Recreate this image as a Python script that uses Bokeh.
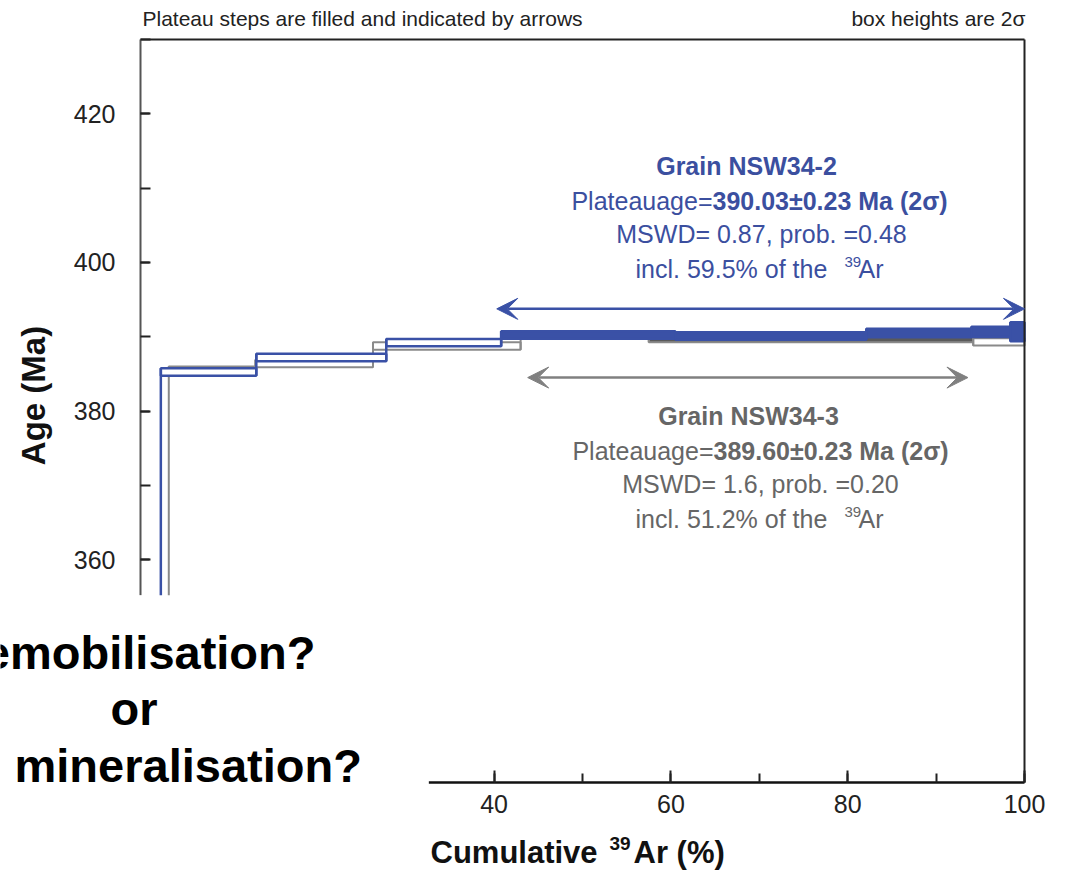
from bokeh.plotting import figure
from bokeh.models import (Range1d, LinearAxis, SingleIntervalTicker, FixedTicker,
                          BoxAnnotation, Label, Arrow, VeeHead, ColumnDataSource)
from bokeh.embed import file_html
from bokeh.resources import INLINE

# ---------------- data ----------------
# Grain NSW34-2 (blue): step boundaries in cumulative 39Ar %, ages (Ma), half box heights
blue_x0 = [0.0, 2.3, 13.1, 27.8, 40.8, 60.5, 82.1, 94.0, 98.4]
blue_x1 = [2.3, 13.1, 27.8, 40.8, 60.5, 82.1, 94.0, 98.4, 100.0]
blue_age = [345.0, 385.25, 387.2, 389.2, 390.23, 390.1, 390.5, 390.65, 390.67]
blue_err = [1.0, 0.5, 0.5, 0.5, 0.5, 0.5, 0.56, 0.7, 1.28]
blue_plateau = [False, False, False, False, True, True, True, True, True]
blue_plateau_range = [40.3, 100.0]

# Grain NSW34-3 (grey)
gray_x0 = [0.0, 3.2, 13.0, 26.3, 43.0, 57.5, 94.2]
gray_x1 = [3.2, 13.0, 26.3, 43.0, 57.5, 94.2, 100.0]
gray_age = [348.0, 385.5, 386.4, 388.75, 390.2, 389.8, 389.3]
gray_err = [1.0, 0.5, 0.5, 0.5, 0.45, 0.55, 0.5]
gray_plateau = [False, False, False, False, True, True, False]
gray_plateau_range = [43.8, 93.6]

x_axis_span = [0.0, 100.0]
y_axis_span = [330.0, 430.0]
x_ticks_major = 20
y_ticks_major = 20

# ---------------- layout / styling ----------------
W, H = 1068, 871
FL, FR, FT, FB = 140, 1024, 39, 782     # plotting box edges (page pixels)
KX = (FR - FL) / (x_axis_span[1] - x_axis_span[0])
KY = (FB - FT) / (y_axis_span[1] - y_axis_span[0])

BLUE = "#3a51a6"
BLUE_TXT = "#3b4f9f"
GRAY_LINE = "#8a8a8a"
GRAY_FILL = "#5a5a5a"
GRAY_TXT = "#666666"
FONT = "Liberation Sans"

# the frame covers the whole canvas so that no text is clipped; the axes are pinned
xr = Range1d(x_axis_span[0] - FL / KX, x_axis_span[1] + (W - FR) / KX)
yr = Range1d(y_axis_span[0] - (H - FB) / KY, y_axis_span[1] + FT / KY)

p = figure(width=W, height=H, x_range=xr, y_range=yr,
           output_backend="svg", toolbar_location=None,
           x_axis_location=None, y_axis_location=None, min_border=0)
p.xgrid.grid_line_color = None
p.ygrid.grid_line_color = None
p.outline_line_color = None
p.background_fill_color = "white"
p.border_fill_color = "white"


def axis_style(ax, line_color, line_width):
    ax.axis_line_color = line_color
    ax.axis_line_width = line_width
    ax.major_tick_out = 0
    ax.minor_tick_out = 0
    ax.major_tick_line_color = "#222222"
    ax.minor_tick_line_color = "#222222"
    ax.major_tick_line_width = 2
    ax.minor_tick_line_width = 2
    ax.major_label_text_font = FONT
    ax.major_label_text_font_size = "25px"
    ax.major_label_text_color = "#222222"


yax = LinearAxis(ticker=SingleIntervalTicker(interval=y_ticks_major, num_minor_ticks=2),
                 bounds=(355.2, y_axis_span[1]), fixed_location=x_axis_span[0])
axis_style(yax, "#555555", 2)
yax.major_tick_in = 9
yax.minor_tick_in = 10
yax.major_label_standoff = 25
p.add_layout(yax, "left")

xax = LinearAxis(ticker=SingleIntervalTicker(interval=x_ticks_major, num_minor_ticks=2),
                 bounds=(32.6, x_axis_span[1]), fixed_location=y_axis_span[0])
axis_style(xax, "#111111", 2.5)
xax.major_tick_in = 12
xax.minor_tick_in = 9
xax.major_label_standoff = 12
p.add_layout(xax, "below")

top_ax = LinearAxis(ticker=FixedTicker(ticks=[]), bounds=tuple(x_axis_span),
                    fixed_location=y_axis_span[1])
right_ax = LinearAxis(ticker=FixedTicker(ticks=[]), bounds=tuple(y_axis_span),
                      fixed_location=x_axis_span[1])
for ax, loc in ((top_ax, "above"), (right_ax, "right")):
    ax.axis_line_color = "#222222"
    ax.axis_line_width = 2
    ax.major_tick_out = 0
    ax.minor_tick_out = 0
    ax.major_label_text_font_size = "0px"
    p.add_layout(ax, loc)


def draw_spectrum(x0, x1, age, err, plateau, line_color, fill_plateau, lw):
    bottom = [a - e for a, e in zip(age, err)]
    top = [a + e for a, e in zip(age, err)]
    fills = [fill_plateau if pl else "white" for pl in plateau]
    src = ColumnDataSource(dict(left=x0, right=x1, bottom=bottom, top=top, fill=fills))
    p.quad(left="left", right="right", bottom="bottom", top="top", source=src,
           fill_color="fill", line_color=line_color, line_width=lw)
    sx = x1[:-1]
    sy0 = [min(bottom[i], bottom[i + 1]) for i in range(len(x0) - 1)]
    sy1 = [max(top[i], top[i + 1]) for i in range(len(x0) - 1)]
    p.segment(x0=sx, x1=sx, y0=sy0, y1=sy1, line_color=line_color, line_width=lw)


draw_spectrum(gray_x0, gray_x1, gray_age, gray_err, gray_plateau, GRAY_LINE, GRAY_FILL, 2)
draw_spectrum(blue_x0, blue_x1, blue_age, blue_err, blue_plateau, BLUE, BLUE, 2.5)

# plateau arrows
p.add_layout(Arrow(start=VeeHead(size=21, fill_color=BLUE, line_color=BLUE),
                   end=VeeHead(size=21, fill_color=BLUE, line_color=BLUE),
                   x_start=blue_plateau_range[0], x_end=blue_plateau_range[1],
                   y_start=393.75, y_end=393.75, line_color=BLUE, line_width=2.5))
p.add_layout(Arrow(start=VeeHead(size=21, fill_color="#808080", line_color="#808080"),
                   end=VeeHead(size=21, fill_color="#808080", line_color="#808080"),
                   x_start=gray_plateau_range[0], x_end=gray_plateau_range[1],
                   y_start=384.5, y_end=384.5, line_color="#808080", line_width=2.5))

# white cover box under the question text (hides lower-left corner of the chart)
p.add_layout(BoxAnnotation(right=32.6, top=355.2, fill_color="white", fill_alpha=1.0,
                           line_color=None))


def lab(text, px, py, size, color, bold=False, align="left", baseline="middle", angle=0.0):
    xd = x_axis_span[0] + (px - FL) / KX
    yd = y_axis_span[1] - (py - FT) / KY
    p.add_layout(Label(x=xd, y=yd, text=text,
                       text_font=FONT, text_font_size=f"{size}px", text_color=color,
                       text_font_style="bold" if bold else "normal",
                       text_align=align, text_baseline=baseline, angle=angle))


# header texts
lab("Plateau steps are filled and indicated by arrows", 142, 18, 21, "#222222")
lab("box heights are 2σ", 1025, 18, 21, "#222222", align="right")

# blue annotation
lab("Grain NSW34-2", 746, 165, 25, BLUE_TXT, bold=True, align="center")
lab("Plateauage=", 712, 200, 25, BLUE_TXT, align="right")
lab("390.03±0.23 Ma (2σ)", 712, 200, 25, BLUE_TXT, bold=True)
lab("MSWD= 0.87, prob. =0.48", 761, 233, 25, BLUE_TXT, align="center")
lab("incl. 59.5% of the", 635, 268, 25, BLUE_TXT)
lab("39", 844, 261, 15, BLUE_TXT)
lab("Ar", 858, 268, 25, BLUE_TXT)

# grey annotation
lab("Grain NSW34-3", 748, 415, 25, GRAY_TXT, bold=True, align="center")
lab("Plateauage=", 713, 450, 25, GRAY_TXT, align="right")
lab("389.60±0.23 Ma (2σ)", 713, 450, 25, GRAY_TXT, bold=True)
lab("MSWD= 1.6, prob. =0.20", 760, 483, 25, GRAY_TXT, align="center")
lab("incl. 51.2% of the", 635, 518, 25, GRAY_TXT)
lab("39", 844, 511, 15, GRAY_TXT)
lab("Ar", 858, 518, 25, GRAY_TXT)

# axis titles
lab("Age (Ma)", 33, 395, 33, "#111111", bold=True, align="center", angle=1.5708)
lab("Cumulative", 430, 852, 31, "#111111", bold=True)
lab("39", 609, 843, 19, "#111111", bold=True)
lab("Ar (%)", 633, 852, 31, "#111111", bold=True)

# question overlay
lab("remobilisation?", 315, 652, 47, "#000000", bold=True, align="right", baseline="alphabetic")
lab("or", 110, 708, 47, "#000000", bold=True, baseline="alphabetic")
lab("mineralisation?", 14, 765, 47, "#000000", bold=True, baseline="alphabetic")

open("out.html", "w").write(file_html(p, INLINE))
